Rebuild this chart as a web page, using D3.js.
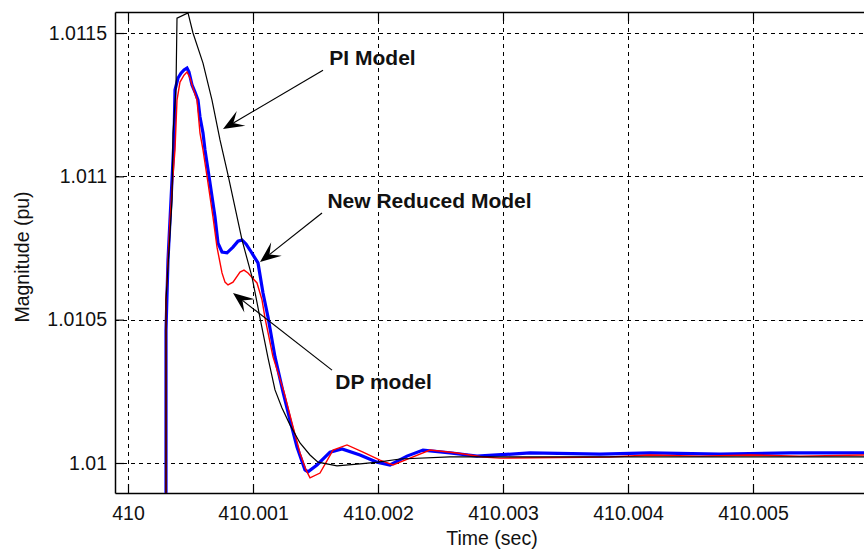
<!DOCTYPE html>
<html>
<head>
<meta charset="utf-8">
<script src="https://cdn.jsdelivr.net/npm/d3@7"></script>
<style>
  html, body { margin: 0; padding: 0; background: #fff; }
  svg { display: block; }
</style>
</head>
<body>
<svg id="chart" width="864" height="550"></svg>
<script>
// ---------- data ----------
const xTicks = [410, 410.001, 410.002, 410.003, 410.004, 410.005];
const xTickLabels = ["410", "410.001", "410.002", "410.003", "410.004", "410.005"];
const yTicks = [1.01, 1.0105, 1.011, 1.0115];
const yTickLabels = ["1.01", "1.0105", "1.011", "1.0115"];

// PI Model (black)
const piTime = [410.000304, 410.000304, 410.000352, 410.000360, 410.000384, 410.000392, 410.000480, 410.000520,
  410.000600, 410.000672, 410.000736, 410.000800, 410.000912, 410.000992, 410.001056, 410.001120, 410.001176,
  410.001232, 410.001296, 410.001376, 410.001456, 410.001520, 410.001672, 410.001856, 410.002000, 410.002176,
  410.002576, 410.005936];
const piValue = [1.0096, 1.010569, 1.010917, 1.011151, 1.011308, 1.011552, 1.011570, 1.011500,
  1.011395, 1.011266, 1.011127, 1.011005, 1.010778, 1.010649, 1.010506, 1.010367, 1.010255,
  1.010192, 1.010133, 1.010070, 1.010028, 1.010003, 1.009990, 1.009997, 1.010003, 1.010014,
  1.010021, 1.010021];

// New Reduced Model (blue)
const nrmTime = [410.000304, 410.000304, 410.000320, 410.000352, 410.000368, 410.000376, 410.000400, 410.000424,
  410.000448, 410.000472, 410.000488, 410.000512, 410.000536, 410.000560, 410.000576, 410.000600, 410.000616,
  410.000656, 410.000696, 410.000720, 410.000752, 410.000792, 410.000840, 410.000880, 410.000912, 410.000944,
  410.000976, 410.001016, 410.001040, 410.001080, 410.001120, 410.001176, 410.001240, 410.001296, 410.001352,
  410.001416, 410.001440, 410.001512, 410.001616, 410.001712, 410.001856, 410.001992, 410.002096, 410.002232,
  410.002360, 410.002576, 410.002792, 410.002952, 410.003216, 410.003776, 410.004176, 410.004736, 410.005296,
  410.005936];
const nrmValue = [1.0096, 1.010464, 1.010708, 1.010987, 1.011127, 1.011301, 1.011343, 1.011360,
  1.011371, 1.011378, 1.011364, 1.011319, 1.011294, 1.011266, 1.011207, 1.011151, 1.011092,
  1.010977, 1.010858, 1.010767, 1.010736, 1.010733, 1.010753, 1.010774, 1.010778, 1.010764,
  1.010743, 1.010715, 1.010698, 1.010593, 1.010509, 1.010370, 1.010248, 1.010150, 1.010056,
  1.009976, 1.009969, 1.009993, 1.010038, 1.010049, 1.010028, 1.010003, 1.009993, 1.010024,
  1.010045, 1.010035, 1.010024, 1.010028, 1.010035, 1.010031, 1.010035, 1.010031, 1.010035,
  1.010035];

// DP model (red)
const dpTime = [410.000304, 410.000304, 410.000336, 410.000360, 410.000376, 410.000392, 410.000416, 410.000448,
  410.000472, 410.000496, 410.000520, 410.000552, 410.000576, 410.000600, 410.000640, 410.000680, 410.000712,
  410.000752, 410.000776, 410.000800, 410.000840, 410.000896, 410.000928, 410.000960, 410.001032, 410.001072,
  410.001096, 410.001160, 410.001248, 410.001312, 410.001376, 410.001424, 410.001456, 410.001536, 410.001640,
  410.001752, 410.001880, 410.002016, 410.002120, 410.002256, 410.002416, 410.002632, 410.002840, 410.002976,
  410.003856, 410.004176, 410.004576, 410.004976, 410.005376, 410.005936];
const dpValue = [1.0096, 1.010569, 1.010848, 1.011005, 1.011092, 1.011266, 1.011329, 1.011353,
  1.011364, 1.011343, 1.011308, 1.011266, 1.011151, 1.011092, 1.010977, 1.010858, 1.010753,
  1.010663, 1.010631, 1.010621, 1.010631, 1.010666, 1.010673, 1.010663, 1.010628, 1.010569,
  1.010506, 1.010370, 1.010248, 1.010140, 1.010035, 1.009976, 1.009948, 1.009965, 1.010045,
  1.010063, 1.010038, 1.010010, 1.009993, 1.010017, 1.010045, 1.010035, 1.010021, 1.010017,
  1.010021, 1.010028, 1.010024, 1.010028, 1.010024, 1.010028];

// annotations: label, label centre (t, v), arrow tail (t, v), arrow tip (t, v)
const annLabels = ["PI Model", "New Reduced Model", "DP model"];
const annTextT = [410.001956, 410.002412, 410.002044];
const annTextV = [1.011388, 1.010890, 1.010258];
const annTailT = [410.001560, 410.001552, 410.001632];
const annTailV = [1.011370, 1.010872, 1.010324];
const annTipT  = [410.000760, 410.001056, 410.000840];
const annTipV  = [1.011165, 1.010701, 1.010593];

// ---------- layout ----------
const svg = d3.select("#chart");
const L = 115, T = 12, R = 870, B = 493;
const x = d3.scaleLinear().domain([409.999896, 410.005936]).range([L, R]);
const y = d3.scaleLinear().domain([1.0098953, 1.0115733]).range([B, T]);
const FONT = "'Liberation Sans', Arial, Helvetica, sans-serif";

svg.append("rect").attr("width", 864).attr("height", 550).attr("fill", "#fff");

svg.append("defs").append("clipPath").attr("id", "clip")
  .append("rect").attr("x", L).attr("y", T).attr("width", R - L).attr("height", B - T);

// grid
const grid = svg.append("g").attr("stroke", "#000").attr("stroke-width", 1)
  .attr("stroke-dasharray", "4,4").attr("shape-rendering", "crispEdges");
grid.selectAll(".gx").data(xTicks).join("line")
  .attr("x1", d => Math.round(x(d)) + 0.5).attr("x2", d => Math.round(x(d)) + 0.5)
  .attr("y1", T).attr("y2", B);
grid.selectAll(".gy").data(yTicks).join("line")
  .attr("y1", d => Math.round(y(d)) + 0.5).attr("y2", d => Math.round(y(d)) + 0.5)
  .attr("x1", L).attr("x2", R);

// axes
const xAxis = d3.axisBottom(x).tickValues(xTicks).tickFormat((d, i) => xTickLabels[i])
  .tickSizeInner(-9).tickSizeOuter(0).tickPadding(13);
const gx = svg.append("g").attr("transform", `translate(0,${B})`).call(xAxis);
const xAxisTop = d3.axisTop(x).tickValues(xTicks).tickFormat("").tickSizeInner(-9).tickSizeOuter(0);
const gxt = svg.append("g").attr("transform", `translate(0,${T})`).call(xAxisTop);
const yAxis = d3.axisLeft(y).tickValues(yTicks).tickFormat((d, i) => yTickLabels[i])
  .tickSizeInner(-9).tickSizeOuter(0).tickPadding(8);
const gy = svg.append("g").attr("transform", `translate(${L},0)`).call(yAxis);

[gx, gxt, gy].forEach(g => {
  g.selectAll("path.domain").attr("stroke", "#000").attr("stroke-width", 1.5);
  g.selectAll(".tick line").attr("stroke", "#000").attr("stroke-width", 1.2);
  g.selectAll("text").attr("font-family", FONT).attr("font-size", 19.5).attr("fill", "#111");
});

// axis labels
svg.append("text").attr("x", 492).attr("y", 545).attr("text-anchor", "middle")
  .attr("font-family", FONT).attr("font-size", 19.5).attr("fill", "#111").text("Time (sec)");
svg.append("text").attr("transform", "translate(29,257) rotate(-90)").attr("text-anchor", "middle")
  .attr("font-family", FONT).attr("font-size", 19.5).attr("fill", "#111").text("Magnitude (pu)");

// series
const line = d3.line().x(d => x(d[0])).y(d => y(d[1])).curve(d3.curveLinear);
const plot = svg.append("g").attr("clip-path", "url(#clip)");
const series = [
  { t: nrmTime, v: nrmValue, color: "#0000ff", w: 3.2 },
  { t: dpTime, v: dpValue, color: "#ff0000", w: 1.4 },
  { t: piTime, v: piValue, color: "#000000", w: 1.2 }
];
series.forEach(s => {
  plot.append("path").datum(s.t.map((t, i) => [t, s.v[i]]))
    .attr("d", line).attr("fill", "none").attr("stroke", s.color)
    .attr("stroke-width", s.w).attr("stroke-linejoin", "miter");
});

// annotations
const ann = svg.append("g");
annLabels.forEach((lab, i) => {
  ann.append("text").attr("x", x(annTextT[i])).attr("y", y(annTextV[i]))
    .attr("text-anchor", "middle").attr("font-family", FONT).attr("font-weight", "bold")
    .attr("font-size", 21).attr("fill", "#111").text(lab);
  const x0 = x(annTailT[i]), y0 = y(annTailV[i]), x1 = x(annTipT[i]), y1 = y(annTipV[i]);
  const dx = x0 - x1, dy = y0 - y1, len = Math.hypot(dx, dy);
  const ux = dx / len, uy = dy / len, px = -uy, py = ux;
  const hl = 21, hw = 8.5, notch = 12;
  ann.append("line").attr("x1", x0).attr("y1", y0).attr("x2", x1 + ux * notch).attr("y2", y1 + uy * notch)
    .attr("stroke", "#000").attr("stroke-width", 1.2);
  const pts = [
    [x1, y1],
    [x1 + ux * hl + px * hw, y1 + uy * hl + py * hw],
    [x1 + ux * notch, y1 + uy * notch],
    [x1 + ux * hl - px * hw, y1 + uy * hl - py * hw]
  ];
  ann.append("path").attr("d", "M" + pts.map(p => p.join(",")).join("L") + "Z").attr("fill", "#000");
});
</script>
</body>
</html>
